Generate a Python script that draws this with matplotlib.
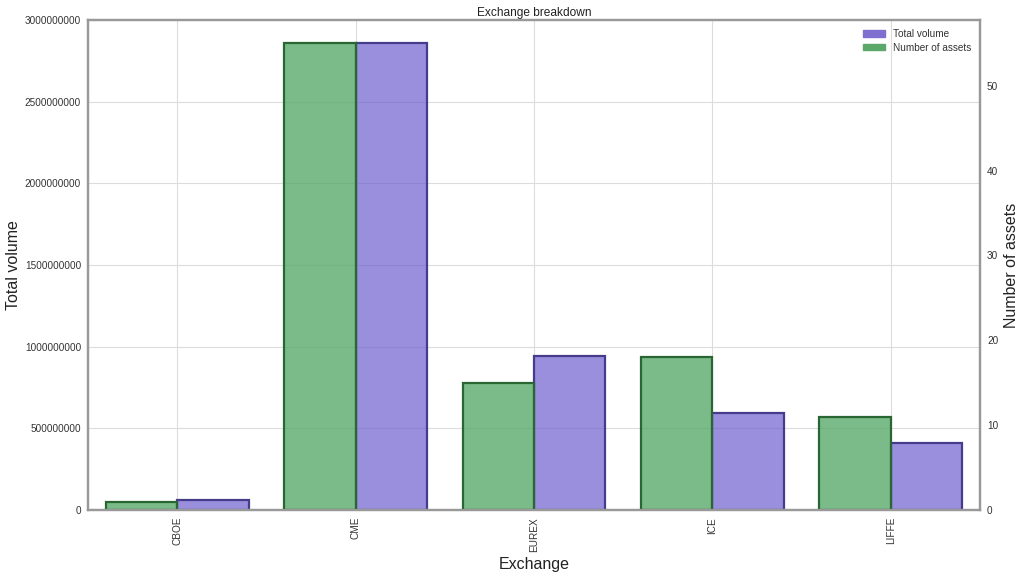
import matplotlib.pyplot as plt
import matplotlib.patches as mpatches
import numpy as np

exchanges = ['CBOE', 'CME', 'EUREX', 'ICE', 'LIFFE']
total_volume = [61000000, 2857000000, 943000000, 594000000, 412000000]
num_assets = [1, 55, 15, 18, 11]

plt.rcParams['font.family'] = ['Liberation Sans', 'DejaVu Sans']

fig = plt.figure(figsize=(10.25, 5.77), dpi=100)
ax1 = fig.add_axes([0.0859, 0.1161, 0.8702, 0.8492])
ax2 = ax1.twinx()

x = np.arange(len(exchanges))
w = 0.4

# volume bars to the right of the tick, assets to the left
# (alpha only on the fill so the edges stay dark)
ax1.bar(x, total_volume, width=w, align='edge', facecolor=(0.416, 0.353, 0.804, 0.68),
        edgecolor='#463C8C', linewidth=1.6)
ax2.bar(x - w, num_assets, width=w, align='edge', facecolor=(0.333, 0.659, 0.408, 0.78),
        edgecolor='#2A6632', linewidth=1.6)

ax1.set_xlim(-0.5, len(exchanges) - 0.5)
ax1.set_ylim(0, 3000000000)
ax2.set_ylim(0, 57.75)
ax1.set_xticks(x)
ax1.set_xticklabels(exchanges, rotation=90, fontsize=7.2, color='#333333')
ax1.set_yticks(np.arange(0, 3000000001, 500000000))
ax1.set_yticklabels([str(v) for v in range(0, 3000000001, 500000000)], fontsize=7.2, color='#333333')
ax2.set_yticks([0, 10, 20, 30, 40, 50])
ax2.tick_params(axis='y', labelsize=7.2, labelcolor='#333333', length=0, pad=5)
ax1.tick_params(length=0, pad=5)

ax1.set_axisbelow(True)
ax1.grid(True, color='#dcdcdc', linewidth=0.8)
ax2.grid(False)

for ax in (ax1, ax2):
    for s in ax.spines.values():
        s.set_color('#999999')
        s.set_linewidth(1.6)

ax1.set_xlabel('Exchange', fontsize=11.5, color='#222222', labelpad=4)
ax1.set_ylabel('Total volume', fontsize=11.5, color='#222222', labelpad=3)
ax2.set_ylabel('Number of assets', fontsize=11.5, color='#222222', labelpad=4)
ax1.set_title('Exchange breakdown', fontsize=8.6, color='#222222', pad=3)

handles = [mpatches.Patch(color='#7F70CF', label='Total volume'),
           mpatches.Patch(color='#5BA86A', label='Number of assets')]
leg = ax2.legend(handles=handles, loc='upper right', frameon=False, fontsize=7.2,
                 handlelength=2.2, handleheight=0.6, labelspacing=0.35)
for t in leg.get_texts():
    t.set_color('#333333')

fig.savefig('out.png', dpi=100)
